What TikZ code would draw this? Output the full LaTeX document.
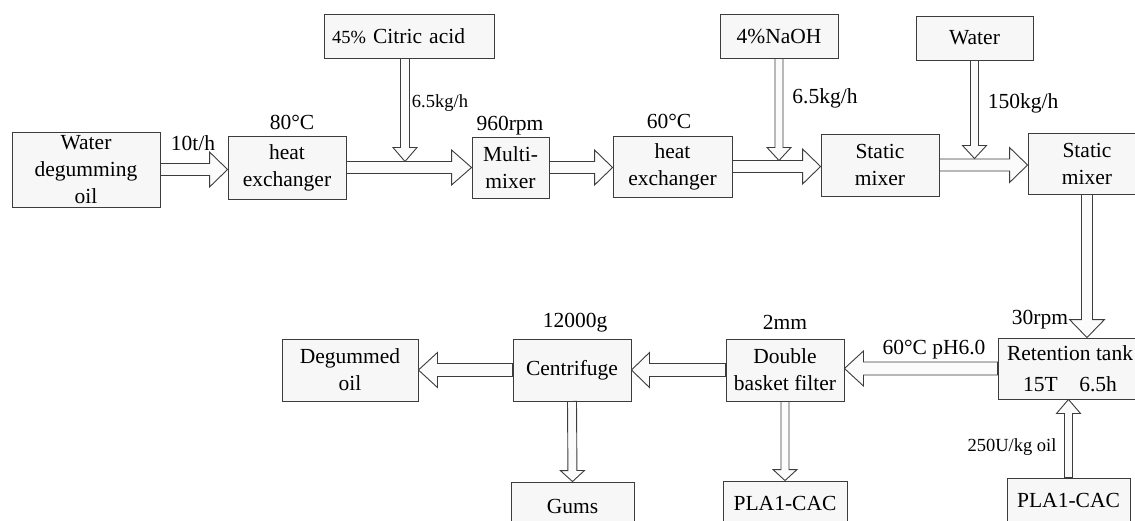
\documentclass[tikz,border=0pt]{standalone}
\usepackage{fontspec}
\setmainfont{Liberation Serif}
\usetikzlibrary{calc}
\definecolor{boxline}{RGB}{60,60,60}
\definecolor{boxfill}{RGB}{247,247,247}
\definecolor{arrfill}{RGB}{251,251,251}
\newcommand{\mainsz}{\fontsize{21.5}{27}\selectfont}
\newcommand{\smallsz}{\fontsize{18.5}{22}\selectfont}
\tikzset{
  box/.style={draw=boxline, fill=boxfill, line width=0.9pt, align=center, inner sep=0pt, font=\mainsz},
  lbl/.style={inner sep=0pt, font=\mainsz},
  slbl/.style={inner sep=0pt, font=\smallsz},
  blockarrow/.style={draw=boxline, fill=arrfill, line width=0.9pt, line join=miter},
}
% block arrow: #1 start, #2 end, #3 shaft half width, #4 head half width, #5 head length
\newcommand{\barrow}[5]{%
  \path (#1) coordinate (ba-s) (#2) coordinate (ba-e);
  \coordinate (ba-h) at ($(ba-e)!#5pt!(ba-s)$);
  \draw[blockarrow] ($(ba-s)!#3pt!90:(ba-e)$) -- ($(ba-h)!#3pt!-90:(ba-s)$) -- ($(ba-h)!#4pt!-90:(ba-s)$) -- (ba-e) -- ($(ba-h)!#4pt!90:(ba-s)$) -- ($(ba-h)!#3pt!90:(ba-s)$) -- ($(ba-s)!#3pt!-90:(ba-e)$) -- cycle;}
\begin{document}
\begin{tikzpicture}[x=1pt,y=-1pt]
\useasboundingbox (0,0) rectangle (1135,520);
\fill[white] (0,0) rectangle (1135,520);
\clip (0,0) rectangle (1135,520);
% boxes
\node[box, minimum width=148, minimum height=75] (wdo) at (86,169.5) {Water\\degumming\\oil};
\node[box, minimum width=118, minimum height=63] (he1) at (287,167.5) {heat\\exchanger};
\node[box, minimum width=170, minimum height=44, text width=154, inner xsep=8pt, align=left] (citric) at (409,36) {{\smallsz 45\%} Citric acid};
\node[box, minimum width=77, minimum height=61] (mm) at (510.5,167.5) {Multi-\\mixer};
\node[box, minimum width=119, minimum height=61] (he2) at (672.5,166.5) {heat\\exchanger};
\node[box, minimum width=118, minimum height=44] (naoh) at (779,36) {4\%NaOH};
\node[box, minimum width=118, minimum height=62] (sm1) at (880,165) {Static\\mixer};
\node[box, minimum width=117, minimum height=44] (water) at (974.5,38) {Water};
\node[box, minimum width=118, minimum height=61] (sm2) at (1087,163.5) {Static\\mixer};
\node[box, minimum width=144, minimum height=61, font=\fontsize{21.5}{31}\selectfont] (ret) at (1070,368.5) {Retention tank\\15T\quad 6.5h};
\node[box, minimum width=118, minimum height=62] (filt) at (785,370) {Double\\basket filter};
\node[box, minimum width=118, minimum height=62] (cent) at (572,370) {Centrifuge};
\node[box, minimum width=136, minimum height=62] (degum) at (350,370) {Degummed\\oil};
\node[box, minimum width=123, minimum height=48] (gums) at (572.5,506) {Gums};
\node[box, minimum width=124, minimum height=44] (pla1) at (785,503) {PLA1-CAC};
\node[box, minimum width=123, minimum height=44] (pla2) at (1068.5,500) {PLA1-CAC};
% main flow arrows
\barrow{wdo.east}{he1.west |- wdo.east}{6}{17.5}{18}
\barrow{he1.east}{mm.west |- he1.east}{6}{17.5}{20}
\barrow{mm.east}{he2.west |- mm.east}{6}{17.5}{18}
\barrow{he2.east}{sm1.west |- he2.east}{6}{17.5}{18}
\barrow{sm1.east}{sm2.west |- sm1.east}{6}{17.5}{18}
\barrow{sm2.south}{sm2.south |- ret.north}{5.5}{17.5}{18}
\barrow{ret.west}{filt.east |- ret.west}{6.5}{17.5}{19}
\barrow{filt.west}{cent.east |- filt.west}{6.5}{17.5}{18}
\barrow{cent.west}{degum.east |- cent.west}{6.5}{17.5}{19}
\barrow{cent.south}{gums.north}{4.5}{12}{11}
\barrow{filt.south}{pla1.north}{4}{12}{11}
\barrow{pla2.north}{pla2.north |- ret.south}{4}{12}{14}
% feed arrows
\coordinate (c0) at ($(citric.south)+(-4,0)$);
\coordinate (c1) at ($(c0 |- he1.east)+(0,-6)$);
\barrow{c0}{c1}{4.5}{12}{14}
\coordinate (n1) at ($(naoh.south |- he2.east)+(0,-6)$);
\barrow{naoh.south}{n1}{4}{12}{13}
\coordinate (w1) at ($(water.south |- sm1.east)+(0,-6.5)$);
\barrow{water.south}{w1}{4}{12}{13}
% labels
\node[lbl] (l1) at (193,143) {10t/h};
\node[lbl] (l2) at (292,122) {80°C};
\node[slbl] (l3) at (440,103) {6.5kg/h};
\node[lbl] (l4) at (510,126) {960rpm};
\node[lbl] (l5) at (669,121) {60°C};
\node[lbl] (l6) at (825,98) {6.5kg/h};
\node[lbl] (l7) at (1023,103) {150kg/h};
\node[lbl] (l8) at (1040,320) {30rpm};
\node[lbl] (l9) at (934,350) {60°C pH6.0};
\node[lbl] (l10) at (785,322) {2mm};
\node[lbl] (l11) at (575,323) {12000g};
\node[slbl] (l12) at (1012,447) {250U/kg oil};
\end{tikzpicture}
\end{document}
